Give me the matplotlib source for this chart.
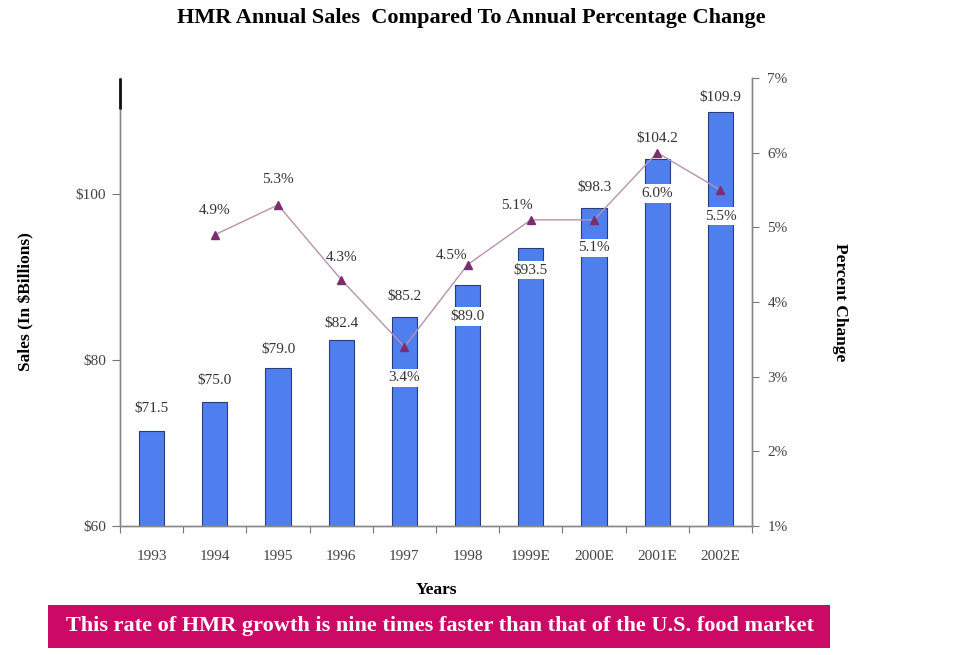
import matplotlib
matplotlib.use("Agg")
import matplotlib.pyplot as plt
import numpy as np
from matplotlib.patches import Rectangle

plt.rcParams["font.family"] = ["Liberation Serif", "DejaVu Serif"]

# HMR sales (in $ billions) and annual percentage change
years = ["1993", "1994", "1995", "1996", "1997", "1998", "1999E", "2000E", "2001E", "2002E"]
sales = [71.5, 75.0, 79.0, 82.4, 85.2, 89.0, 93.5, 98.3, 104.2, 109.9]
pct_years = ["1994", "1995", "1996", "1997", "1998", "1999E", "2000E", "2001E", "2002E"]
pct_change = [4.9, 5.3, 4.3, 3.4, 4.5, 5.1, 5.1, 6.0, 5.5]

# label offsets in pixels (dx, dy) from the bar top / marker
sales_offsets = [(0, 22), (0, 21), (0, 19), (0, 17), (0, 20), (0, -31), (0, -22), (0, 21), (0, 21), (0, 15)]
sales_boxed = [False, False, False, False, False, True, True, False, False, False]
pct_offsets = [(0, 24), (0, 25), (0, 22), (0, -31), (-16, 9), (-14, 14), (0, -28), (0, -41), (0, -26)]
pct_boxed = [False, False, False, True, False, False, True, True, True]

fig = plt.figure(figsize=(9.71, 6.55), dpi=100)
ax = fig.add_axes([120 / 971, 129 / 655, 632 / 971, 448 / 655])
ax2 = ax.twinx()

x = np.arange(len(years))
ax.bar(x, sales, width=0.4, color="#4f7fee", edgecolor="#2b3a7a", linewidth=0.8, zorder=2)
ax.set_xlim(-0.5, len(years) - 0.5)
ax.set_ylim(60, 114)
ax.set_yticks([60, 80, 100])
ax.set_yticklabels(["$60", "$80", "$100"])

# ticks between categories, labels under each category
ax.set_xticks(np.arange(len(years) + 1) - 0.5)
ax.set_xticklabels([])
ax.set_xticks(x, minor=True)
ax.set_xticklabels(years, minor=True)
ax.tick_params(axis="x", which="major", length=5, color="#777777", direction="out")
ax.tick_params(axis="x", which="minor", length=0, pad=17, labelsize=11, labelcolor="#444444")
ax.tick_params(axis="y", length=6, color="#777777", labelsize=11, labelcolor="#444444", pad=4)

px = 72 / 100
for i, v in enumerate(sales):
    dx, dy = sales_offsets[i]
    box = dict(facecolor="white", edgecolor="none", pad=2) if sales_boxed[i] else None
    ax.annotate(f"${v:.1f}", (x[i], v), xytext=(dx * px, dy * px), textcoords="offset points",
                ha="center", va="center", fontsize=11, color="#333333", bbox=box, zorder=5)

# percentage change line on the right axis
px_idx = [years.index(y) for y in pct_years]
ax2.plot(px_idx, pct_change, color="#b892b0", linewidth=1.0, marker="^", markersize=6,
         markerfacecolor="#7a2e6e", markeredgecolor="#7a2e6e", zorder=4)
ax2.set_ylim(1, 7)
ax2.set_yticks(range(1, 8))
ax2.set_yticklabels([f"{t}%" for t in range(1, 8)])
ax2.tick_params(axis="y", length=5, color="#777777", labelsize=11, labelcolor="#444444", pad=6)

for i, v in enumerate(pct_change):
    dx, dy = pct_offsets[i]
    box = dict(facecolor="white", edgecolor="none", pad=2) if pct_boxed[i] else None
    ax2.annotate(f"{v:.1f}%", (px_idx[i], v), xytext=(dx * px, dy * px), textcoords="offset points",
                 ha="center", va="center", fontsize=11, color="#333333", bbox=box, zorder=5)

for a in (ax, ax2):
    a.spines["top"].set_visible(False)
    for s in ("left", "right", "bottom"):
        a.spines[s].set_color("#888888")
        a.spines[s].set_linewidth(1.0)

# dark stub at the top of the left axis
ax2.plot([0, 0], [0.93, 1.0], transform=ax.transAxes, color="#111111", linewidth=2.0,
         solid_capstyle="butt", clip_on=False, zorder=6)

ax.set_ylabel("Sales (In $Billions)", fontsize=12.5, fontweight="bold")
ax.yaxis.set_label_coords(-0.135, 0.5)
ax2.set_ylabel("Percent Change", fontsize=12.5, fontweight="bold", rotation=-90, va="center")
ax2.yaxis.set_label_coords(1.14, 0.5)
ax.set_xlabel("Years", fontsize=12.5, fontweight="bold", labelpad=14)

fig.text(0.485, 0.972, "HMR Annual Sales  Compared To Annual Percentage Change",
         ha="center", va="center", fontsize=16, fontweight="bold")

fig.patches.append(Rectangle((48 / 971, 7 / 655), 782 / 971, 43 / 655, transform=fig.transFigure,
                             facecolor="#cc0a66", edgecolor="none"))
fig.text(0.453, 0.044, "This rate of HMR growth is nine times faster than that of the U.S. food market",
         ha="center", va="center", fontsize=16, fontweight="bold", color="white")

fig.savefig("out.png", dpi=100)
